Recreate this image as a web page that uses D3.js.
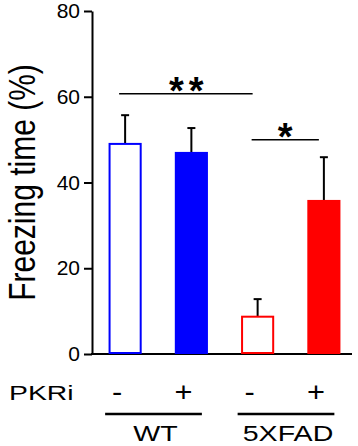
<!DOCTYPE html>
<html><head><meta charset="utf-8">
<script src="https://cdn.jsdelivr.net/npm/d3@7"></script>
<style>body{margin:0;background:#fff}svg{display:block}text{font-family:"Liberation Sans",Arial,sans-serif;fill:#000}</style>
</head><body>
<svg id="c" width="358" height="446"></svg>
<script>
const categories = ["WT -", "WT +", "5XFAD -", "5XFAD +"];
const means = [49.0, 46.9, 8.7, 35.7];
const sems = [6.7, 5.8, 4.1, 10.2];
const colors = ["#0000ff", "#0000ff", "#ff0000", "#ff0000"];
const filled = [false, true, false, true];
const pkriLabels = ["-", "+", "-", "+"];
const groups = [{name: "WT", members: ["WT -", "WT +"]}, {name: "5XFAD", members: ["5XFAD -", "5XFAD +"]}];
const yTicks = [0, 20, 40, 60, 80];
const sigs = [{from: "WT -", to: "5XFAD -", level: 60.7, label: "**"}, {from: "5XFAD -", to: "5XFAD +", level: 50.0, label: "*"}];

const svg = d3.select("#c");
const x = d3.scaleBand().domain(categories).range([92, 357]).paddingInner(0.5).paddingOuter(0.25);
const y = d3.scaleLinear().domain([0, 80]).range([354, 11]);
const cx = c => x(c) + x.bandwidth() / 2;

// y axis
const yAxis = svg.append("g").attr("transform", "translate(92,0)")
  .call(d3.axisLeft(y).tickValues(yTicks).tickSize(8).tickSizeOuter(0).tickPadding(4));
yAxis.select(".domain").attr("stroke-width", 2);
yAxis.selectAll(".tick line").attr("stroke-width", 2);
yAxis.selectAll(".tick text").attr("font-size", 21).attr("font-family", "Liberation Sans, Arial, sans-serif").attr("fill", "#000");

// x axis line
svg.append("line").attr("x1", 91).attr("x2", 352).attr("y1", y(0)).attr("y2", y(0))
  .attr("stroke", "#000").attr("stroke-width", 2);

// y label
svg.append("text").attr("transform", `translate(35,${y(40)}) scale(1.25,1) rotate(-90)`)
  .attr("text-anchor", "middle").attr("font-size", 30).text("Freezing time (%)");

// bars
categories.forEach((c, i) => {
  const x0 = x(c), w = x.bandwidth();
  svg.append("line").attr("x1", cx(c)).attr("x2", cx(c)).attr("y1", y(means[i])).attr("y2", y(means[i] + sems[i]))
    .attr("stroke", "#000").attr("stroke-width", 2);
  svg.append("line").attr("x1", cx(c) - 4).attr("x2", cx(c) + 4).attr("y1", y(means[i] + sems[i])).attr("y2", y(means[i] + sems[i]))
    .attr("stroke", "#000").attr("stroke-width", 2);
  svg.append("rect").attr("x", x0 + 1).attr("y", y(means[i])).attr("width", w - 2).attr("height", y(0) - y(means[i]) - 1)
    .attr("fill", filled[i] ? colors[i] : "#fff").attr("stroke", colors[i]).attr("stroke-width", 2);
});

// significance
sigs.forEach(s => {
  const x1 = cx(s.from) - 6, x2 = cx(s.to) - 5;
  svg.append("line").attr("x1", x1).attr("x2", x2).attr("y1", y(s.level)).attr("y2", y(s.level))
    .attr("stroke", "#000").attr("stroke-width", 1.5);
  svg.append("text").attr("x", (x1 + x2) / 2 + (s.label.length > 1 ? 3 : 0)).attr("y", y(s.level) + 10.5).attr("text-anchor", "middle")
    .attr("font-size", 38).attr("font-weight", "bold").attr("letter-spacing", s.label.length > 1 ? 5 : 0).text(s.label);
});

// PKRi row
svg.append("text").attr("transform", "translate(9,400) scale(1.35,1)").attr("font-size", 21).text("PKRi");
categories.forEach((c, i) => {
  svg.append("text").attr("transform", `translate(${cx(c) - 8},401) scale(1.1,1)`).attr("text-anchor", "middle")
    .attr("font-size", 28).text(pkriLabels[i]);
});

// groups
groups.forEach(g => {
  const a = cx(g.members[0]) - 20, b = cx(g.members[1]) + 10.5;
  svg.append("line").attr("x1", a).attr("x2", b).attr("y1", 414).attr("y2", 414).attr("stroke", "#000").attr("stroke-width", 2.5);
  svg.append("text").attr("transform", `translate(${(a + b) / 2 + 2},441) scale(1.3,1)`).attr("text-anchor", "middle")
    .attr("font-size", 22).text(g.name);
});
</script>
</body></html>
